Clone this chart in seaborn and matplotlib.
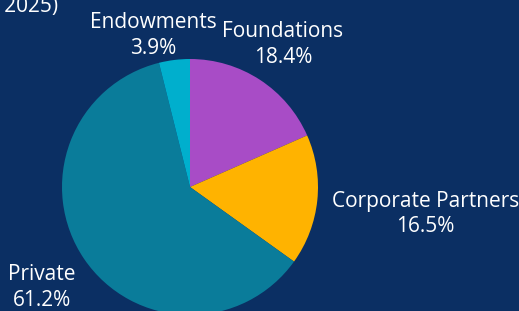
import numpy as np
import matplotlib
matplotlib.use("Agg")
import matplotlib.pyplot as plt
import seaborn as sns

# Funding shares (%)
sources = ["Foundations", "Corporate Partners", "Private", "Endowments"]
shares = [18.4, 16.5, 61.2, 3.9]
colors = ["#A84CC6", "#FFB300", "#0A7C9A", "#00AFCD"]
# label placement: distance (in pie radii) and small angle nudge (deg)
label_dist = [1.33, 1.85, 1.40, 1.22]
label_nudge = [0, -0.6, 0, 6.7]

bg = "#0B2F63"

sns.set_theme(style="white")
plt.rcParams["font.family"] = ["Open Sans", "DejaVu Sans"]

fig = plt.figure(figsize=(5.19, 3.11), dpi=100, facecolor=bg)
ax = fig.add_axes([0, 0, 1, 1])
ax.set_facecolor(bg)

wedges, _ = ax.pie(shares, colors=colors, startangle=90, counterclock=False,
                   radius=1.0, wedgeprops=dict(linewidth=0))

# labels at the middle angle of each wedge
start = 90.0
for name, val, d, nudge in zip(sources, shares, label_dist, label_nudge):
    mid = np.deg2rad(start - val * 3.6 / 2 + nudge)
    start -= val * 3.6
    ax.text(d * np.cos(mid), d * np.sin(mid), f"{name}\n{val}%",
            ha="center", va="center", color="white", fontsize=15,
            linespacing=1.3)

# title, mostly clipped off at the top-left edge
fig.text(0.112, 0.962, "Funding Sources (FY 2025)", ha="right", va="baseline",
         color="white", fontsize=15)

scale = 128.0
ax.set_xlim(-190 / scale, (519 - 190) / scale)
ax.set_ylim(-124 / scale, 187 / scale)
ax.set_aspect("equal")
ax.axis("off")

fig.savefig("out.png", dpi=100, facecolor=bg)
